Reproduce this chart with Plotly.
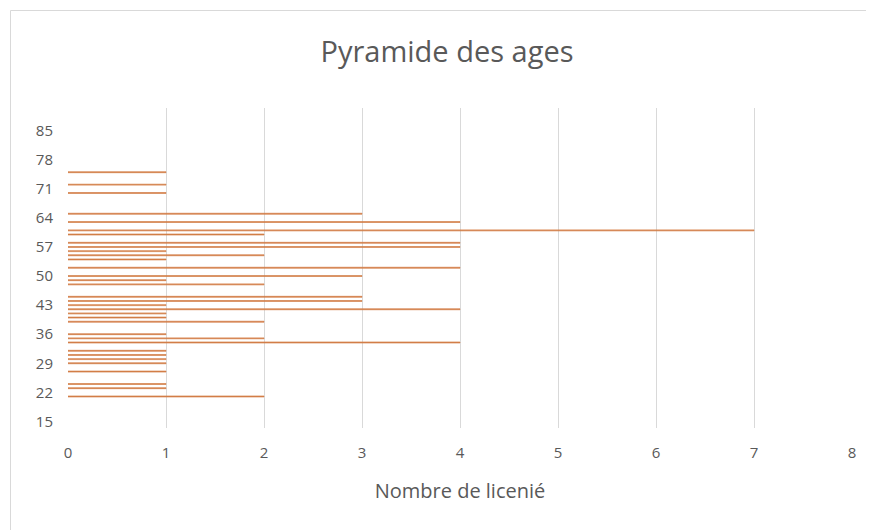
import plotly.graph_objects as go

# Data
ages = [75, 72, 70, 65, 63, 61, 60, 58, 57, 56, 55, 54, 52, 50, 49, 48,
        45, 44, 43, 42, 41, 40, 39, 36, 35, 34, 32, 31, 30, 29, 27, 24, 23, 21]
licencies = [1, 1, 1, 3, 4, 7, 2, 4, 4, 1, 2, 1, 4, 3, 1, 2,
             3, 3, 1, 4, 1, 1, 2, 1, 2, 4, 1, 1, 1, 1, 1, 1, 1, 2]
age_ticks = [15, 22, 29, 36, 43, 50, 57, 64, 71, 78, 85]
x_ticks = [0, 1, 2, 3, 4, 5, 6, 7, 8]

OFF = 8  # page body margin
W, H = 874 - OFF, 530 - OFF
L, R, T, B = 68 - OFF, 22, 108 - OFF, 102
pw, ph = W - L - R, H - T - B

def px(x):
    return (x - OFF - L) / pw

def py(y):
    return (H - B - (y - OFF)) / ph

fig = go.Figure()
fig.add_trace(go.Bar(
    x=licencies, y=ages, orientation="h", width=0.5,
    marker=dict(color="rgba(237,125,49,0.15)", line=dict(width=0)),
    hoverinfo="skip",
))
fig.add_trace(go.Bar(
    x=licencies, y=ages, orientation="h", width=0.22,
    marker=dict(color="#D27E48", line=dict(color="#D27E48", width=0.6)),
    hoverinfo="x+y",
))

fig.update_layout(
    width=W, height=H,
    margin=dict(l=L, r=R, t=T, b=B, pad=0),
    paper_bgcolor="white", plot_bgcolor="white",
    showlegend=False, barmode="overlay",
    font=dict(family="Open Sans, Lato, sans-serif", color="#595959", size=15),
    title=dict(text="Pyramide des ages", x=(447 - OFF) / W, xanchor="center",
               y=1 - (52 - OFF) / H, yanchor="middle",
               font=dict(size=29, color="#595959")),
    xaxis=dict(range=[0, 8], tickvals=x_ticks, showgrid=True,
               gridcolor="#d9d9d9", gridwidth=1, zeroline=False,
               showline=False, ticks="", ticklabelstandoff=14,
               tickfont=dict(size=15, color="#595959"),
               title=dict(text="Nombre de licenié", standoff=22,
                          font=dict(size=20, color="#595959")),
               fixedrange=True),
    yaxis=dict(range=[13.41, 90.46], tickvals=age_ticks, showgrid=False,
               zeroline=False, showline=False, ticks="",
               ticklabelstandoff=14,
               tickfont=dict(size=15, color="#595959"),
               fixedrange=True),
    shapes=[
        dict(type="rect", xref="paper", yref="paper",
             x0=px(10.5), x1=px(880), y0=py(560), y1=py(10.5),
             line=dict(color="#d9d9d9", width=1), fillcolor="rgba(0,0,0,0)",
             layer="below"),
    ],
)

fig.write_html("out.html")
